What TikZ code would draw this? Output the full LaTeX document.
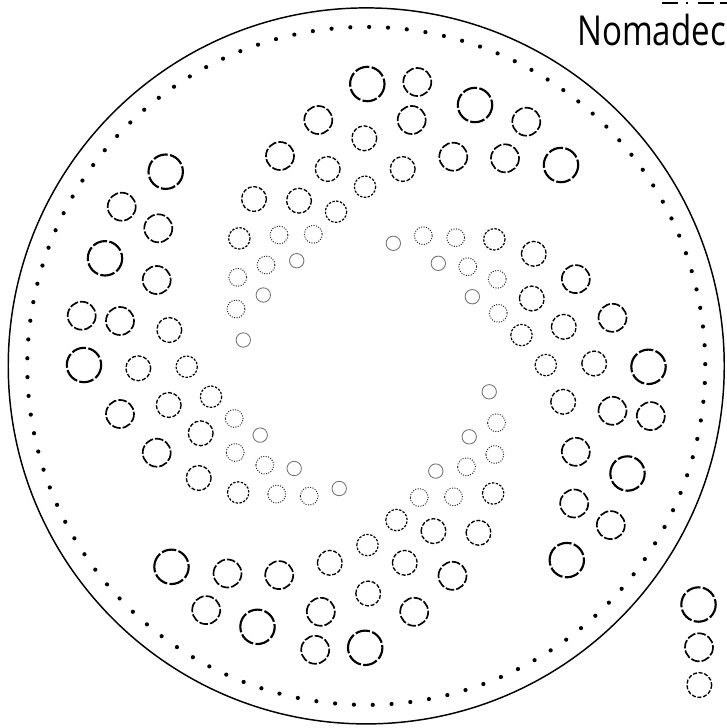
\documentclass[tikz,border=0pt]{standalone}
\usepackage{fontspec}
\setmainfont{Open Sans}

\tikzset{
  holeA/.style={line width=1.6pt, dash pattern=on 11pt off 1.8pt},
  holeB/.style={line width=1.25pt, dash pattern=on 6.5pt off 1.5pt},
  holeC/.style={line width=1pt, dash pattern=on 3pt off 1.3pt},
  holeF/.style={line width=0.9pt, dash pattern=on 1.8pt off 1.1pt},
  holeD/.style={line width=0.75pt, black!85, dash pattern=on 0.75pt off 1.1pt},
  holeE/.style={line width=0.65pt, black!55}
}

% one half of the plate, the other half is the same turned by 180 degrees
\newcommand{\halfplate}{
  \foreach \x/\y in {367.3/84, 475/105, 561/165, 165.7/171.7, 105/258.3, 84/365}
    \draw[holeA] (\x,\y) circle[radius=17.2];
  \foreach \x/\y in {417.3/82, 526.3/121.7, 318.3/120, 411.7/120, 280/156, 453.3/156.7,
                     505/158.3, 121.7/206.7, 158.3/228.3, 156.7/280, 81.7/315.7, 120/321,
                     120/414, 156.7/452.7}
    \draw[holeB] (\x,\y) circle[radius=14];
  \foreach \x/\y in {364.3/138.3, 327.7/169, 402.7/169, 254/199, 299/200.7, 169.3/330,
                     138.3/368.3, 168.7/405, 200.7/433.3, 198.7/478}
    \draw[holeC] (\x,\y) circle[radius=12.4];
  \foreach \x/\y in {365/186.7, 336/211.7, 186.7/366.7, 211/396.7, 239.3/238.3, 494.3/239.3}
    \draw[holeF] (\x,\y) circle[radius=10.7];
  \foreach \x/\y in {279/235, 313.3/234.3, 266/265, 237.7/277.3, 236/309, 423.3/235.7,
                     455.7/237.7, 467.7/266.7, 497.3/279.3, 498.3/313.3}
    \draw[holeD] (\x,\y) circle[radius=8.9];
  \foreach \x/\y in {296.7/260.7, 263.3/295, 243.3/340, 393.3/243.3, 438.3/263.3, 472.3/296.7}
    \draw[holeE] (\x,\y) circle[radius=7.2];
}

\begin{document}
\begin{tikzpicture}[x=0.75pt,y=-0.75pt]
  \useasboundingbox (0,0) rectangle (727,728);
  \coordinate (mid) at (366.25,365.9);

  % rim and the dotted ring
  \draw[line width=1.1pt] (mid) circle[radius=358];
  \foreach \a in {0,...,112}
    \fill[shift={(mid)}] ({\a*3.1858-0.3}:339) circle[radius=2.1];

  % holes
  \halfplate
  \begin{scope}[rotate around={180:(mid)}]
    \halfplate
  \end{scope}

  % legend on the right
  \draw[holeA] (698.5,604.5) circle[radius=17.2];
  \draw[holeB] (699,647.3) circle[radius=14];
  \draw[holeC] (699.3,685) circle[radius=12.4];

  \node[anchor=base west, inner sep=0pt, font=\fontsize{31}{31}\selectfont, xscale=0.8] (brand) at (577,45) {Nomadec};
  \draw[line width=2pt, dash pattern=on 12pt off 6pt on 1.8pt off 7pt on 12.5pt off 4pt] (662,3) -- (727,3);
\end{tikzpicture}
\end{document}
